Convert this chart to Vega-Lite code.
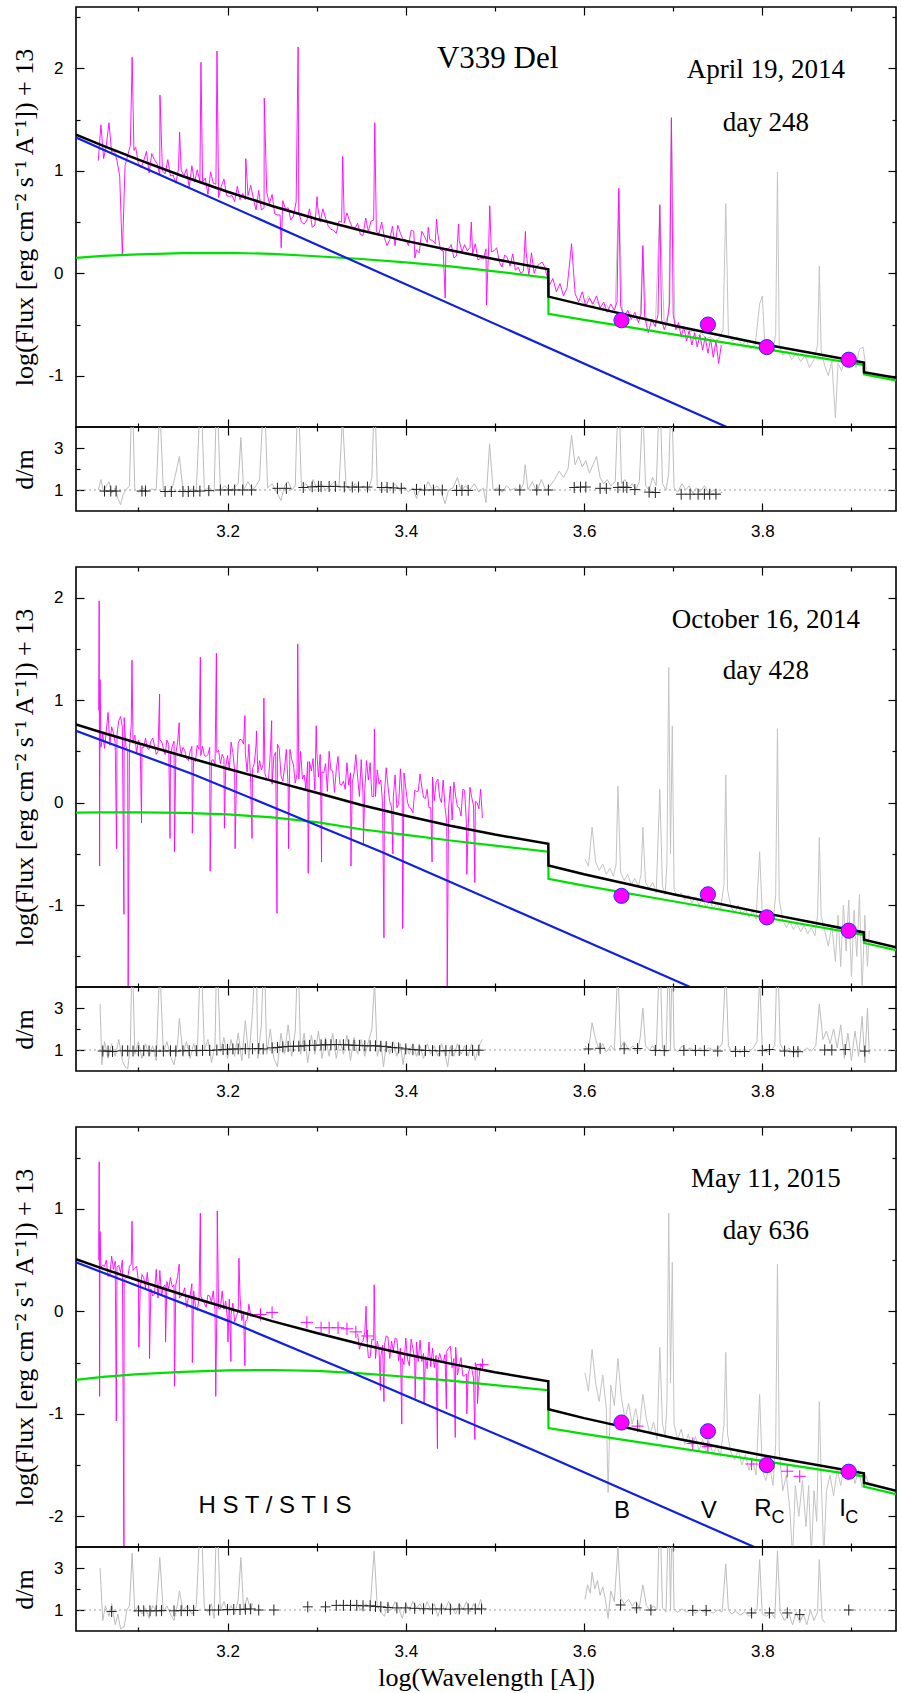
{
"$schema":"https://vega.github.io/schema/vega-lite/v6.json",
"background":"white",
"padding":{"left":10,"top":5,"right":5,"bottom":3},
"autosize":{"type":"pad"},
"config":{"view":{"stroke":"black","strokeWidth":1.6},
"axis":{"domain":false,"grid":false,"tickColor":"black","tickWidth":1.2,"labelFont":"Liberation Sans","labelFontSize":17,"labelColor":"black","labelOverlap":false,"labelFlush":false,"titleFont":"Liberation Serif","titleFontSize":26,"titleFontWeight":"normal","titleColor":"black"}},
"datasets":{
"m1":[{"x":3.055,"y":1.10},{"x":3.058,"y":1.45},{"x":3.061,"y":1.12},{"x":3.064,"y":1.25},{"x":3.067,"y":1.47},{"x":3.070,"y":1.18},{"x":3.073,"y":1.20},{"x":3.076,"y":1.10},{"x":3.079,"y":0.95},{"x":3.082,"y":0.18},{"x":3.085,"y":1.05},{"x":3.088,"y":1.15},{"x":3.091,"y":1.25},{"x":3.093,"y":2.11},{"x":3.095,"y":1.20},
{"x":3.097,"y":1.23},{"x":3.100,"y":1.07},{"x":3.103,"y":1.03},{"x":3.106,"y":1.10},{"x":3.109,"y":1.19},{"x":3.112,"y":0.98},{"x":3.115,"y":1.17},{"x":3.118,"y":1.11},{"x":3.121,"y":1.07},{"x":3.124,"y":0.96},{"x":3.127,"y":1.00},{"x":3.130,"y":0.97},{"x":3.133,"y":1.11},{"x":3.136,"y":0.95},{"x":3.139,"y":0.96},{"x":3.142,"y":0.88},{"x":3.145,"y":1.02},{"x":3.148,"y":1.01},{"x":3.151,"y":0.95},{"x":3.154,"y":1.02},{"x":3.157,"y":0.84},{"x":3.160,"y":1.05},{"x":3.163,"y":0.89},{"x":3.166,"y":1.01},{"x":3.169,"y":0.90},{"x":3.172,"y":0.89},{"x":3.175,"y":0.93},{"x":3.178,"y":0.77},{"x":3.181,"y":0.99},{"x":3.184,"y":0.88},{"x":3.187,"y":0.87},{"x":3.190,"y":0.74},{"x":3.193,"y":0.85},{"x":3.196,"y":0.92},{"x":3.199,"y":0.76},{"x":3.202,"y":0.75},{"x":3.205,"y":0.76},{"x":3.208,"y":0.70},{"x":3.211,"y":0.85},{"x":3.214,"y":0.72},{"x":3.217,"y":0.78},{"x":3.220,"y":0.72},{"x":3.223,"y":0.76},{"x":3.226,"y":0.86},{"x":3.229,"y":0.73},{"x":3.232,"y":0.62},{"x":3.235,"y":0.81},{"x":3.238,"y":0.62},{"x":3.241,"y":0.64},{"x":3.244,"y":0.79},{"x":3.247,"y":0.68},{"x":3.250,"y":0.77},{"x":3.253,"y":0.58},{"x":3.256,"y":0.57},{"x":3.259,"y":0.57},{"x":3.262,"y":0.71},{"x":3.265,"y":0.63},{"x":3.268,"y":0.64},{"x":3.271,"y":0.52},{"x":3.274,"y":0.56},{"x":3.277,"y":0.70},{"x":3.280,"y":0.59},{"x":3.283,"y":0.50},{"x":3.286,"y":0.48},{"x":3.289,"y":0.52},{"x":3.292,"y":0.63},{"x":3.295,"y":0.45},{"x":3.298,"y":0.47},{"x":3.301,"y":0.66},{"x":3.304,"y":0.50},{"x":3.307,"y":0.63},{"x":3.310,"y":0.54},{"x":3.313,"y":0.46},{"x":3.316,"y":0.43},{"x":3.319,"y":0.42},{"x":3.322,"y":0.39},{"x":3.325,"y":0.51},{"x":3.328,"y":0.50},{"x":3.331,"y":0.49},{"x":3.334,"y":0.59},{"x":3.337,"y":0.51},{"x":3.340,"y":0.45},{"x":3.343,"y":0.44},{"x":3.346,"y":0.49},{"x":3.349,"y":0.38},{"x":3.352,"y":0.37},{"x":3.355,"y":0.54},{"x":3.358,"y":0.41},{"x":3.361,"y":0.51},{"x":3.364,"y":0.52},{"x":3.367,"y":0.41},{"x":3.370,"y":0.39},{"x":3.373,"y":0.50},{"x":3.376,"y":0.35},{"x":3.379,"y":0.27},{"x":3.382,"y":0.33},{"x":3.385,"y":0.46},{"x":3.388,"y":0.27},{"x":3.391,"y":0.47},{"x":3.394,"y":0.39},{"x":3.397,"y":0.33},{"x":3.400,"y":0.33},{"x":3.403,"y":0.27},{"x":3.406,"y":0.42},{"x":3.409,"y":0.41},{"x":3.412,"y":0.23},{"x":3.415,"y":0.20},{"x":3.418,"y":0.41},{"x":3.421,"y":0.36},{"x":3.424,"y":0.30},{"x":3.427,"y":0.33},{"x":3.430,"y":0.32},{"x":3.433,"y":0.29},{"x":3.436,"y":0.38},{"x":3.439,"y":0.23},{"x":3.442,"y":0.22},{"x":3.445,"y":0.24},{"x":3.448,"y":0.24},{"x":3.451,"y":0.28},{"x":3.454,"y":0.15},{"x":3.457,"y":0.17},{"x":3.460,"y":0.32},{"x":3.463,"y":0.21},{"x":3.466,"y":0.28},{"x":3.469,"y":0.22},{"x":3.472,"y":0.25},{"x":3.475,"y":0.19},{"x":3.478,"y":0.29},{"x":3.481,"y":0.13},{"x":3.484,"y":0.15},{"x":3.487,"y":0.14},{"x":3.490,"y":0.24},{"x":3.493,"y":0.26},{"x":3.496,"y":0.21},{"x":3.499,"y":0.22},{"x":3.502,"y":0.25},{"x":3.505,"y":0.11},{"x":3.508,"y":0.06},{"x":3.511,"y":0.18},{"x":3.514,"y":0.15},{"x":3.517,"y":0.07},{"x":3.520,"y":0.19},{"x":3.523,"y":0.03},{"x":3.526,"y":0.06},{"x":3.529,"y":0.00},{"x":3.532,"y":0.02},{"x":3.535,"y":0.21},{"x":3.538,"y":-0.02},{"x":3.541,"y":0.20},{"x":3.544,"y":0.00},{"x":3.547,"y":0.07},{"x":3.550,"y":0.09},{"x":3.553,"y":0.11},{"x":3.556,"y":0.06},
{"x":3.1242,"y":1.74},{"x":3.1462,"y":1.38},{"x":3.1702,"y":2.06},{"x":3.1882,"y":2.17},{"x":3.2205,"y":1.12},{"x":3.2412,"y":1.71},{"x":3.2602,"y":0.25},{"x":3.2792,"y":2.21},{"x":3.3005,"y":0.75},{"x":3.3292,"y":1.14},{"x":3.3652,"y":1.47},{"x":3.4102,"y":0.15},{"x":3.4252,"y":0.45},{"x":3.4345,"y":0.53},{"x":3.4442,"y":-0.24},{"x":3.4592,"y":0.48},{"x":3.4735,"y":0.50},{"x":3.4905,"y":-0.31},{"x":3.4942,"y":0.66},{"x":3.5342,"y":0.41},
{"x":3.561,"y":-0.12},{"x":3.565,"y":-0.05},{"x":3.569,"y":-0.18},{"x":3.573,"y":-0.10},{"x":3.577,"y":-0.22},{"x":3.581,"y":-0.14},{"x":3.586,"y":0.29},{"x":3.590,"y":-0.20},{"x":3.594,"y":-0.28},{"x":3.598,"y":-0.18},{"x":3.602,"y":-0.32},{"x":3.606,"y":-0.24},{"x":3.610,"y":-0.30},{"x":3.614,"y":-0.22},{"x":3.618,"y":-0.34},{"x":3.622,"y":-0.28},{"x":3.626,"y":-0.38},{"x":3.630,"y":-0.30},{"x":3.634,"y":-0.36},{"x":3.637,"y":-0.28},{"x":3.639,"y":0.83},{"x":3.641,"y":-0.32},{"x":3.645,"y":-0.42},{"x":3.649,"y":-0.36},{"x":3.653,"y":-0.45},{"x":3.657,"y":-0.38},{"x":3.661,"y":-0.48},{"x":3.664,"y":-0.40},{"x":3.666,"y":0.27},{"x":3.668,"y":-0.42},{"x":3.672,"y":-0.58},{"x":3.676,"y":-0.45},{"x":3.680,"y":-0.52},{"x":3.683,"y":-0.40},{"x":3.685,"y":0.67},{"x":3.687,"y":-0.45},{"x":3.690,"y":-0.55},{"x":3.693,"y":-0.48},{"x":3.696,"y":-0.30},{"x":3.698,"y":1.52},{"x":3.700,"y":-0.40},{"x":3.703,"y":-0.55},{"x":3.706,"y":-0.48},{"x":3.709,"y":-0.62},{"x":3.712,"y":-0.52},{"x":3.715,"y":-0.66},{"x":3.718,"y":-0.56},{"x":3.721,"y":-0.70},{"x":3.724,"y":-0.58},{"x":3.727,"y":-0.72},{"x":3.730,"y":-0.60},{"x":3.733,"y":-0.75},{"x":3.736,"y":-0.62},{"x":3.739,"y":-0.78},{"x":3.742,"y":-0.64},{"x":3.745,"y":-0.82},{"x":3.748,"y":-0.66},{"x":3.751,"y":-0.88},{"x":3.754,"y":-0.70}],
"g1":[{"x":3.595,"y":-0.25},{"x":3.600,"y":-0.30},{"x":3.605,"y":-0.22},{"x":3.610,"y":-0.32},{"x":3.615,"y":-0.28},{"x":3.620,"y":-0.35},{"x":3.625,"y":-0.30},{"x":3.630,"y":-0.38},{"x":3.635,"y":-0.33},{"x":3.639,"y":0.80},{"x":3.643,"y":-0.38},{"x":3.648,"y":-0.42},{"x":3.653,"y":-0.40},{"x":3.658,"y":-0.46},{"x":3.663,"y":-0.42},{"x":3.666,"y":0.25},{"x":3.670,"y":-0.48},{"x":3.675,"y":-0.45},{"x":3.680,"y":-0.52},{"x":3.685,"y":0.65},{"x":3.690,"y":-0.50},{"x":3.695,"y":-0.40},{"x":3.698,"y":1.50},{"x":3.702,"y":-0.50},{"x":3.707,"y":-0.55},{"x":3.712,"y":-0.52},{"x":3.717,"y":-0.58},{"x":3.722,"y":-0.56},{"x":3.727,"y":-0.62},{"x":3.732,"y":-0.58},{"x":3.737,"y":-0.64},{"x":3.742,"y":-0.62},{"x":3.747,"y":-0.66},{"x":3.752,"y":-0.63},{"x":3.756,"y":-0.55},{"x":3.759,"y":0.68},{"x":3.762,"y":-0.60},{"x":3.767,"y":-0.66},{"x":3.772,"y":-0.62},{"x":3.777,"y":-0.70},{"x":3.782,"y":-0.66},{"x":3.787,"y":-0.74},{"x":3.792,"y":-0.70},{"x":3.797,"y":-0.30},{"x":3.800,"y":-0.22},{"x":3.803,"y":-0.72},{"x":3.808,"y":-0.78},{"x":3.812,"y":-0.74},{"x":3.815,"y":-0.60},{"x":3.817,"y":0.99},{"x":3.819,"y":-0.70},{"x":3.823,"y":-0.80},{"x":3.828,"y":-0.76},{"x":3.833,"y":-0.84},{"x":3.838,"y":-0.78},{"x":3.843,"y":-0.86},{"x":3.848,"y":-0.80},{"x":3.853,"y":-0.92},{"x":3.858,"y":-0.84},{"x":3.862,"y":-0.70},{"x":3.864,"y":0.07},{"x":3.866,"y":-0.75},{"x":3.870,"y":-0.90},{"x":3.874,"y":-1.00},{"x":3.878,"y":-0.86},{"x":3.882,"y":-1.41},{"x":3.885,"y":-0.88},{"x":3.889,"y":-0.95},{"x":3.893,"y":-0.84},{"x":3.897,"y":-0.90},{"x":3.901,"y":-0.80},{"x":3.905,"y":-0.92},{"x":3.909,"y":-0.74},{"x":3.913,"y":-0.72},{"x":3.917,"y":-0.95}],
"n1":[{"x":3.03,"y":0.15},{"x":3.06,"y":0.17},{"x":3.1,"y":0.185},{"x":3.15,"y":0.197},{"x":3.2,"y":0.2},{"x":3.25,"y":0.19},{"x":3.3,"y":0.167},{"x":3.35,"y":0.14},{"x":3.4,"y":0.108},{"x":3.45,"y":0.068},{"x":3.5,"y":0.02},{"x":3.5599,"y":-0.045},{"x":3.5601,"y":-0.395},{"x":3.6,"y":-0.455},{"x":3.7,"y":-0.595},{"x":3.8,"y":-0.735},{"x":3.9139,"y":-0.895},{"x":3.9141,"y":-0.985},{"x":3.95,"y":-1.045}],
"k1":[{"x":3.03,"y":1.353},{"x":3.06,"y":1.247},{"x":3.1,"y":1.11},{"x":3.15,"y":0.948},{"x":3.2,"y":0.797},{"x":3.25,"y":0.658},{"x":3.3,"y":0.531},{"x":3.35,"y":0.418},{"x":3.4,"y":0.317},{"x":3.45,"y":0.225},{"x":3.5,"y":0.138},{"x":3.5599,"y":0.04},{"x":3.5601,"y":-0.227},{"x":3.6,"y":-0.31},{"x":3.7,"y":-0.51},{"x":3.8,"y":-0.69},{"x":3.9139,"y":-0.87},{"x":3.9141,"y":-0.965},{"x":3.95,"y":-1.02}],
"b1":[{"x":3.03,"y":1.325},{"x":3.76,"y":-1.5}],
"c1":[{"x":3.642,"y":-0.458},{"x":3.739,"y":-0.50},{"x":3.805,"y":-0.72},{"x":3.897,"y":-0.843}],
"t1a":[{"x":3.503,"y":2.09,"t":"V339 Del"}],
"t1b":[{"x":3.804,"y":1.985,"t":"April 19, 2014"},{"x":3.804,"y":1.466,"t":"day 248"}],
"dg1":[{"x":3.055,"y":1.0},{"x":3.058,"y":1.5},{"x":3.061,"y":0.9},{"x":3.064,"y":1.2},{"x":3.067,"y":1.4},{"x":3.070,"y":0.85},{"x":3.074,"y":1.1},{"x":3.077,"y":0.6},{"x":3.080,"y":0.3},{"x":3.083,"y":0.8},{"x":3.086,"y":1.0},{"x":3.090,"y":1.2},{"x":3.093,"y":6},{"x":3.096,"y":1.0},{"x":3.100,"y":0.9},{"x":3.105,"y":1.1},{"x":3.110,"y":0.95},{"x":3.115,"y":1.05},{"x":3.120,"y":1.0},{"x":3.124,"y":5},{"x":3.128,"y":1.0},{"x":3.133,"y":0.9},{"x":3.138,"y":1.1},{"x":3.142,"y":1.8},{"x":3.146,"y":2.6},{"x":3.150,"y":1.0},{"x":3.155,"y":0.9},{"x":3.160,"y":1.05},{"x":3.165,"y":0.95},{"x":3.170,"y":6},{"x":3.174,"y":1.0},{"x":3.180,"y":1.1},{"x":3.185,"y":0.9},{"x":3.188,"y":6},{"x":3.192,"y":1.0},{"x":3.197,"y":1.2},{"x":3.202,"y":0.95},{"x":3.207,"y":1.1},{"x":3.212,"y":1.3},{"x":3.215,"y":3.5},{"x":3.218,"y":1.0},{"x":3.223,"y":1.4},{"x":3.228,"y":1.0},{"x":3.232,"y":1.2},{"x":3.236,"y":1.5},{"x":3.241,"y":6},{"x":3.245,"y":1.1},{"x":3.250,"y":1.3},{"x":3.255,"y":0.9},{"x":3.260,"y":0.5},{"x":3.264,"y":1.2},{"x":3.268,"y":1.4},{"x":3.272,"y":1.0},{"x":3.276,"y":1.2},{"x":3.279,"y":6},{"x":3.283,"y":1.1},{"x":3.288,"y":1.3},{"x":3.292,"y":1.0},{"x":3.296,"y":1.5},{"x":3.300,"y":1.1},{"x":3.305,"y":1.3},{"x":3.310,"y":1.0},{"x":3.315,"y":1.2},{"x":3.320,"y":1.4},{"x":3.325,"y":1.1},{"x":3.329,"y":4.5},{"x":3.333,"y":1.2},{"x":3.338,"y":1.0},{"x":3.343,"y":1.3},{"x":3.348,"y":1.1},{"x":3.353,"y":1.2},{"x":3.358,"y":1.0},{"x":3.362,"y":1.6},{"x":3.365,"y":6},{"x":3.368,"y":1.2},{"x":3.373,"y":0.95},{"x":3.378,"y":1.2},{"x":3.383,"y":1.05},{"x":3.388,"y":1.3},{"x":3.393,"y":1.0},{"x":3.398,"y":1.15},{"x":3.403,"y":0.9},{"x":3.408,"y":1.1},{"x":3.412,"y":0.6},{"x":3.416,"y":1.1},{"x":3.421,"y":0.95},{"x":3.425,"y":1.4},{"x":3.430,"y":1.0},{"x":3.435,"y":1.2},{"x":3.440,"y":0.9},{"x":3.444,"y":0.35},{"x":3.448,"y":1.0},{"x":3.453,"y":1.1},{"x":3.458,"y":1.6},{"x":3.462,"y":0.95},{"x":3.467,"y":1.2},{"x":3.472,"y":1.0},{"x":3.477,"y":1.3},{"x":3.482,"y":0.9},{"x":3.487,"y":1.1},{"x":3.490,"y":0.4},{"x":3.494,"y":3.2},{"x":3.498,"y":1.0},{"x":3.503,"y":1.1},{"x":3.508,"y":0.9},{"x":3.513,"y":1.2},{"x":3.518,"y":1.0},{"x":3.523,"y":1.1},{"x":3.528,"y":0.95},{"x":3.532,"y":1.3},{"x":3.534,"y":2.2},{"x":3.537,"y":1.0},{"x":3.542,"y":1.4},{"x":3.547,"y":0.9},{"x":3.552,"y":1.5},{"x":3.557,"y":1.0},{"x":3.562,"y":1.2},{"x":3.567,"y":1.5},{"x":3.572,"y":1.9},{"x":3.577,"y":1.6},{"x":3.582,"y":2.0},{"x":3.586,"y":3.6},{"x":3.590,"y":2.2},{"x":3.594,"y":2.6},{"x":3.598,"y":2.1},{"x":3.602,"y":2.4},{"x":3.606,"y":1.8},{"x":3.610,"y":2.2},{"x":3.614,"y":2.6},{"x":3.618,"y":1.6},{"x":3.622,"y":1.3},{"x":3.626,"y":1.5},{"x":3.630,"y":1.2},{"x":3.635,"y":1.4},{"x":3.639,"y":6},{"x":3.642,"y":1.3},{"x":3.646,"y":1.5},{"x":3.650,"y":1.1},{"x":3.654,"y":1.3},{"x":3.658,"y":1.0},{"x":3.662,"y":1.4},{"x":3.666,"y":5},{"x":3.669,"y":1.2},{"x":3.673,"y":1.0},{"x":3.677,"y":1.6},{"x":3.681,"y":1.2},{"x":3.685,"y":6},{"x":3.688,"y":1.3},{"x":3.692,"y":1.0},{"x":3.695,"y":1.8},{"x":3.698,"y":6},{"x":3.701,"y":1.1},{"x":3.705,"y":0.9},{"x":3.710,"y":1.3},{"x":3.714,"y":1.0},{"x":3.718,"y":1.2},{"x":3.722,"y":0.85},{"x":3.726,"y":1.1},{"x":3.730,"y":0.9},{"x":3.735,"y":1.2},{"x":3.740,"y":0.85},{"x":3.745,"y":1.0},{"x":3.750,"y":0.8},{"x":3.755,"y":0.9}],
"dx1":[{"x":3.062,"y":0.95},{"x":3.069,"y":0.95},{"x":3.075,"y":0.95},{"x":3.104,"y":0.95},{"x":3.108,"y":0.95},{"x":3.130,"y":0.93},{"x":3.137,"y":0.93},{"x":3.150,"y":0.93},{"x":3.156,"y":0.93},{"x":3.162,"y":0.94},{"x":3.169,"y":0.95},{"x":3.179,"y":0.97},{"x":3.192,"y":1.0},{"x":3.201,"y":1.0},{"x":3.208,"y":1.0},{"x":3.217,"y":1.0},{"x":3.227,"y":1.0},{"x":3.256,"y":1.08},{"x":3.266,"y":1.08},{"x":3.285,"y":1.12},{"x":3.295,"y":1.15},{"x":3.302,"y":1.17},{"x":3.305,"y":1.17},{"x":3.314,"y":1.17},{"x":3.321,"y":1.17},{"x":3.331,"y":1.15},{"x":3.340,"y":1.14},{"x":3.347,"y":1.14},{"x":3.357,"y":1.14},{"x":3.373,"y":1.12},{"x":3.379,"y":1.12},{"x":3.386,"y":1.1},{"x":3.395,"y":1.08},{"x":3.412,"y":1.03},{"x":3.421,"y":1.0},{"x":3.431,"y":1.0},{"x":3.441,"y":1.0},{"x":3.457,"y":0.98},{"x":3.463,"y":0.98},{"x":3.470,"y":0.98},{"x":3.505,"y":1.0},{"x":3.528,"y":1.0},{"x":3.547,"y":1.0},{"x":3.560,"y":1.0},{"x":3.589,"y":1.12},{"x":3.596,"y":1.14},{"x":3.602,"y":1.14},{"x":3.618,"y":1.08},{"x":3.625,"y":1.08},{"x":3.638,"y":1.12},{"x":3.644,"y":1.14},{"x":3.648,"y":1.12},{"x":3.657,"y":1.02},{"x":3.673,"y":0.9},{"x":3.680,"y":0.88},{"x":3.709,"y":0.8},{"x":3.719,"y":0.8},{"x":3.728,"y":0.8},{"x":3.735,"y":0.8},{"x":3.741,"y":0.8},{"x":3.748,"y":0.8}],
"m2":[{"x":3.058,"y":0.54},{"x":3.060,"y":0.67},{"x":3.062,"y":0.53},{"x":3.064,"y":0.70},{"x":3.066,"y":0.88},{"x":3.068,"y":0.56},{"x":3.070,"y":0.74},{"x":3.072,"y":0.68},{"x":3.074,"y":0.58},{"x":3.076,"y":0.67},{"x":3.078,"y":0.80},{"x":3.080,"y":0.84},{"x":3.082,"y":0.74},{"x":3.084,"y":0.83},{"x":3.086,"y":0.55},{"x":3.088,"y":0.50},{"x":3.090,"y":0.54},{"x":3.092,"y":0.76},{"x":3.094,"y":0.58},{"x":3.096,"y":0.66},{"x":3.098,"y":0.48},{"x":3.100,"y":0.61},{"x":3.102,"y":0.57},{"x":3.104,"y":0.54},{"x":3.106,"y":0.54},{"x":3.108,"y":0.63},{"x":3.110,"y":0.53},{"x":3.112,"y":0.52},{"x":3.114,"y":0.60},{"x":3.116,"y":0.63},{"x":3.118,"y":0.56},{"x":3.120,"y":0.47},{"x":3.122,"y":0.50},{"x":3.124,"y":0.61},{"x":3.126,"y":0.60},{"x":3.128,"y":0.53},{"x":3.130,"y":0.47},{"x":3.132,"y":0.61},{"x":3.134,"y":0.57},{"x":3.136,"y":0.46},{"x":3.138,"y":0.55},{"x":3.140,"y":0.60},{"x":3.142,"y":0.48},{"x":3.144,"y":0.59},{"x":3.146,"y":0.59},{"x":3.148,"y":0.47},{"x":3.150,"y":0.54},{"x":3.152,"y":0.51},{"x":3.154,"y":0.43},{"x":3.156,"y":0.41},{"x":3.158,"y":0.50},{"x":3.160,"y":0.55},{"x":3.162,"y":0.44},{"x":3.164,"y":0.40},{"x":3.166,"y":0.56},{"x":3.168,"y":0.52},{"x":3.170,"y":0.46},{"x":3.172,"y":0.55},{"x":3.174,"y":0.46},{"x":3.176,"y":0.45},{"x":3.178,"y":0.47},{"x":3.180,"y":0.54},{"x":3.182,"y":0.41},{"x":3.184,"y":0.42},{"x":3.186,"y":0.37},{"x":3.188,"y":0.49},{"x":3.190,"y":0.51},{"x":3.192,"y":0.38},{"x":3.194,"y":0.47},{"x":3.196,"y":0.43},{"x":3.198,"y":0.35},{"x":3.200,"y":0.46},{"x":3.202,"y":0.32},{"x":3.204,"y":0.59},{"x":3.206,"y":0.49},{"x":3.208,"y":0.31},{"x":3.210,"y":0.22},{"x":3.212,"y":0.58},{"x":3.214,"y":0.62},{"x":3.216,"y":0.61},{"x":3.218,"y":0.57},{"x":3.220,"y":0.48},{"x":3.222,"y":0.30},{"x":3.224,"y":0.57},{"x":3.226,"y":0.20},{"x":3.228,"y":0.33},{"x":3.230,"y":0.38},{"x":3.232,"y":0.56},{"x":3.234,"y":0.29},{"x":3.236,"y":0.41},{"x":3.238,"y":0.32},{"x":3.240,"y":0.37},{"x":3.242,"y":0.28},{"x":3.244,"y":0.23},{"x":3.246,"y":0.22},{"x":3.248,"y":0.49},{"x":3.250,"y":0.18},{"x":3.252,"y":0.45},{"x":3.254,"y":0.49},{"x":3.256,"y":0.57},{"x":3.258,"y":0.53},{"x":3.260,"y":0.26},{"x":3.262,"y":0.21},{"x":3.264,"y":0.34},{"x":3.266,"y":0.52},{"x":3.268,"y":0.16},{"x":3.270,"y":0.52},{"x":3.272,"y":0.42},{"x":3.274,"y":0.37},{"x":3.276,"y":0.19},{"x":3.278,"y":0.28},{"x":3.280,"y":0.23},{"x":3.282,"y":0.50},{"x":3.284,"y":0.23},{"x":3.286,"y":0.27},{"x":3.288,"y":0.13},{"x":3.290,"y":0.40},{"x":3.292,"y":0.40},{"x":3.294,"y":0.31},{"x":3.296,"y":0.43},{"x":3.298,"y":0.12},{"x":3.300,"y":0.52},{"x":3.302,"y":0.25},{"x":3.304,"y":0.47},{"x":3.306,"y":0.30},{"x":3.308,"y":0.29},{"x":3.310,"y":0.38},{"x":3.312,"y":0.11},{"x":3.314,"y":0.50},{"x":3.316,"y":0.32},{"x":3.318,"y":0.31},{"x":3.320,"y":0.10},{"x":3.322,"y":0.32},{"x":3.324,"y":0.45},{"x":3.326,"y":0.18},{"x":3.328,"y":0.17},{"x":3.330,"y":0.21},{"x":3.332,"y":0.13},{"x":3.334,"y":0.39},{"x":3.336,"y":0.17},{"x":3.338,"y":0.29},{"x":3.340,"y":0.20},{"x":3.342,"y":0.29},{"x":3.344,"y":0.47},{"x":3.346,"y":0.25},{"x":3.348,"y":0.06},{"x":3.350,"y":0.42},{"x":3.352,"y":0.09},{"x":3.354,"y":0.13},{"x":3.356,"y":0.41},{"x":3.358,"y":0.22},{"x":3.360,"y":0.39},{"x":3.362,"y":0.06},{"x":3.364,"y":0.06},{"x":3.366,"y":0.06},{"x":3.368,"y":0.32},{"x":3.370,"y":0.18},{"x":3.372,"y":0.22},{"x":3.374,"y":-0.01},{"x":3.376,"y":0.08},{"x":3.378,"y":0.34},{"x":3.380,"y":0.16},{"x":3.382,"y":0.01},{"x":3.384,"y":-0.04},{"x":3.386,"y":0.05},{"x":3.388,"y":0.27},{"x":3.390,"y":-0.05},{"x":3.392,"y":-0.02},{"x":3.394,"y":0.33},{"x":3.396,"y":0.07},{"x":3.398,"y":0.29},{"x":3.400,"y":0.14},{"x":3.402,"y":0.00},{"x":3.404,"y":-0.05},{"x":3.406,"y":-0.06},{"x":3.408,"y":-0.10},{"x":3.410,"y":0.12},{"x":3.412,"y":0.11},{"x":3.414,"y":0.11},{"x":3.416,"y":0.28},{"x":3.418,"y":0.15},{"x":3.420,"y":0.05},{"x":3.422,"y":0.04},{"x":3.424,"y":0.13},{"x":3.426,"y":-0.05},{"x":3.428,"y":-0.05},{"x":3.430,"y":0.25},{"x":3.432,"y":0.02},{"x":3.434,"y":0.20},{"x":3.436,"y":0.23},{"x":3.438,"y":0.05},{"x":3.440,"y":0.00},{"x":3.442,"y":0.22},{"x":3.444,"y":-0.05},{"x":3.446,"y":-0.19},{"x":3.448,"y":-0.06},{"x":3.450,"y":0.16},{"x":3.452,"y":-0.17},{"x":3.454,"y":0.20},{"x":3.456,"y":0.06},{"x":3.458,"y":-0.04},{"x":3.460,"y":-0.05},{"x":3.462,"y":-0.13},{"x":3.464,"y":0.13},{"x":3.466,"y":0.12},{"x":3.468,"y":-0.20},{"x":3.470,"y":-0.24},{"x":3.472,"y":0.15},{"x":3.474,"y":0.05},{"x":3.476,"y":-0.03},{"x":3.478,"y":0.01},{"x":3.480,"y":0.00},{"x":3.482,"y":-0.06},{"x":3.484,"y":0.13},{"x":3.486,"y":-0.15},
{"x":3.0555,"y":0.9},{"x":3.056,"y":1.97},{"x":3.0565,"y":-0.62},{"x":3.057,"y":1.2},{"x":3.0755,"y":-0.45},{"x":3.0838,"y":-1.09},{"x":3.0885,"y":-1.8},{"x":3.0928,"y":1.39},{"x":3.1035,"y":-0.2},{"x":3.1238,"y":1.06},{"x":3.1355,"y":-0.35},{"x":3.1405,"y":-0.48},{"x":3.1458,"y":0.78},{"x":3.1605,"y":-0.3},{"x":3.1695,"y":1.42},{"x":3.1805,"y":-0.67},{"x":3.1875,"y":1.46},{"x":3.1965,"y":-0.25},{"x":3.2085,"y":-0.45},{"x":3.2195,"y":0.85},{"x":3.2275,"y":-0.35},{"x":3.2325,"y":0.7},{"x":3.2408,"y":1.02},{"x":3.2495,"y":0.8},{"x":3.2555,"y":-1.08},{"x":3.2685,"y":-0.45},{"x":3.2788,"y":1.55},{"x":3.2905,"y":-0.69},{"x":3.2995,"y":0.75},{"x":3.3055,"y":-0.58},{"x":3.3385,"y":-0.62},{"x":3.3525,"y":-0.4},{"x":3.3648,"y":0.72},{"x":3.3755,"y":-1.32},{"x":3.3855,"y":-0.5},{"x":3.3965,"y":-1.23},{"x":3.4295,"y":-0.58},{"x":3.4465,"y":-1.8},{"x":3.4685,"y":-0.7},{"x":3.4775,"y":-0.78}],
"g2":[{"x":3.601,"y":-0.55},{"x":3.605,"y":-0.62},{"x":3.609,"y":-0.24},{"x":3.613,"y":-0.58},{"x":3.617,"y":-0.66},{"x":3.621,"y":-0.60},{"x":3.625,"y":-0.70},{"x":3.629,"y":-0.64},{"x":3.633,"y":-0.72},{"x":3.636,"y":-0.60},{"x":3.638,"y":0.16},{"x":3.641,"y":-0.68},{"x":3.645,"y":-0.76},{"x":3.649,"y":-0.70},{"x":3.653,"y":-0.80},{"x":3.657,"y":-0.74},{"x":3.661,"y":-0.82},{"x":3.664,"y":-0.70},{"x":3.666,"y":-0.24},{"x":3.669,"y":-0.78},{"x":3.673,"y":-0.84},{"x":3.677,"y":-0.78},{"x":3.681,"y":-0.88},{"x":3.685,"y":0.13},{"x":3.688,"y":-0.82},{"x":3.691,"y":-0.90},{"x":3.693,"y":-0.60},{"x":3.695,"y":1.32},{"x":3.697,"y":-0.5},{"x":3.699,"y":0.75},{"x":3.701,"y":-0.85},{"x":3.705,"y":-0.92},{"x":3.709,"y":-0.88},{"x":3.713,"y":-0.95},{"x":3.717,"y":-0.90},{"x":3.721,"y":-0.98},{"x":3.725,"y":-0.92},{"x":3.729,"y":-1.00},{"x":3.733,"y":-0.94},{"x":3.737,"y":-1.02},{"x":3.741,"y":-0.96},{"x":3.745,"y":-1.04},{"x":3.749,"y":-0.98},{"x":3.753,"y":-1.05},{"x":3.757,"y":-0.80},{"x":3.759,"y":0.27},{"x":3.761,"y":-0.85},{"x":3.765,"y":-1.02},{"x":3.769,"y":-1.08},{"x":3.773,"y":-1.00},{"x":3.777,"y":-1.10},{"x":3.781,"y":-1.04},{"x":3.785,"y":-1.12},{"x":3.789,"y":-1.06},{"x":3.793,"y":-1.14},{"x":3.797,"y":-0.48},{"x":3.800,"y":-1.10},{"x":3.804,"y":-1.16},{"x":3.808,"y":-1.12},{"x":3.812,"y":-1.18},{"x":3.815,"y":-0.90},{"x":3.817,"y":0.72},{"x":3.819,"y":-0.95},{"x":3.823,"y":-1.15},{"x":3.827,"y":-1.22},{"x":3.831,"y":-1.16},{"x":3.835,"y":-1.24},{"x":3.839,"y":-1.18},{"x":3.843,"y":-1.26},{"x":3.847,"y":-1.20},{"x":3.851,"y":-1.28},{"x":3.855,"y":-1.22},{"x":3.859,"y":-1.30},{"x":3.862,"y":-1.10},{"x":3.864,"y":-0.34},{"x":3.866,"y":-1.10},{"x":3.870,"y":-1.25},{"x":3.874,"y":-1.40},{"x":3.878,"y":-1.20},{"x":3.882,"y":-1.55},{"x":3.885,"y":-1.10},{"x":3.888,"y":-1.60},{"x":3.891,"y":-1.00},{"x":3.894,"y":-1.45},{"x":3.897,"y":-0.95},{"x":3.900,"y":-1.70},{"x":3.903,"y":-1.05},{"x":3.906,"y":-1.50},{"x":3.909,"y":-0.90},{"x":3.912,"y":-1.85},{"x":3.915,"y":-1.10},{"x":3.918,"y":-1.60},{"x":3.920,"y":-1.25}],
"n2":[{"x":3.03,"y":-0.098},{"x":3.06,"y":-0.095},{"x":3.1,"y":-0.095},{"x":3.15,"y":-0.10},{"x":3.2,"y":-0.115},{"x":3.25,"y":-0.145},{"x":3.3,"y":-0.19},{"x":3.35,"y":-0.26},{"x":3.4,"y":-0.315},{"x":3.45,"y":-0.37},{"x":3.5,"y":-0.42},{"x":3.5599,"y":-0.48},{"x":3.5601,"y":-0.745},{"x":3.6,"y":-0.81},{"x":3.7,"y":-0.963},{"x":3.8,"y":-1.117},{"x":3.9139,"y":-1.292},{"x":3.9141,"y":-1.37},{"x":3.95,"y":-1.44}],
"k2":[{"x":3.03,"y":0.764},{"x":3.06,"y":0.682},{"x":3.1,"y":0.579},{"x":3.15,"y":0.455},{"x":3.2,"y":0.331},{"x":3.25,"y":0.212},{"x":3.3,"y":0.097},{"x":3.35,"y":-0.023},{"x":3.4,"y":-0.128},{"x":3.45,"y":-0.226},{"x":3.5,"y":-0.312},{"x":3.5599,"y":-0.403},{"x":3.5601,"y":-0.613},{"x":3.6,"y":-0.699},{"x":3.7,"y":-0.894},{"x":3.8,"y":-1.074},{"x":3.9139,"y":-1.267},{"x":3.9141,"y":-1.339},{"x":3.95,"y":-1.413}],
"b2":[{"x":3.03,"y":0.70},{"x":3.1,"y":0.475},{"x":3.162,"y":0.275},{"x":3.25,"y":-0.04},{"x":3.3,"y":-0.22},{"x":3.371,"y":-0.474},{"x":3.45,"y":-0.775},{"x":3.55,"y":-1.156},{"x":3.65,"y":-1.537},{"x":3.719,"y":-1.8}],
"c2":[{"x":3.642,"y":-0.91},{"x":3.739,"y":-0.895},{"x":3.805,"y":-1.12},{"x":3.897,"y":-1.25}],
"t2":[{"x":3.804,"y":1.787,"t":"October 16, 2014"},{"x":3.804,"y":1.284,"t":"day 428"}],
"dg2":[{"x":3.057,"y":3.2},{"x":3.059,"y":0.3},{"x":3.062,"y":1.4},{"x":3.066,"y":0.6},{"x":3.070,"y":1.3},{"x":3.074,"y":0.7},{"x":3.078,"y":1.5},{"x":3.082,"y":0.5},{"x":3.085,"y":0.2},{"x":3.088,"y":0.1},{"x":3.091,"y":1.2},{"x":3.093,"y":6},{"x":3.096,"y":0.8},{"x":3.100,"y":1.4},{"x":3.104,"y":0.6},{"x":3.108,"y":1.3},{"x":3.112,"y":0.7},{"x":3.116,"y":1.2},{"x":3.120,"y":0.5},{"x":3.124,"y":5},{"x":3.128,"y":0.9},{"x":3.132,"y":1.4},{"x":3.136,"y":0.7},{"x":3.140,"y":0.3},{"x":3.144,"y":1.3},{"x":3.146,"y":2.5},{"x":3.150,"y":0.8},{"x":3.154,"y":1.4},{"x":3.158,"y":0.6},{"x":3.162,"y":1.3},{"x":3.166,"y":0.7},{"x":3.170,"y":6},{"x":3.174,"y":1.0},{"x":3.178,"y":1.5},{"x":3.182,"y":0.4},{"x":3.186,"y":1.2},{"x":3.188,"y":6},{"x":3.192,"y":0.9},{"x":3.196,"y":1.6},{"x":3.200,"y":0.6},{"x":3.204,"y":1.5},{"x":3.208,"y":0.7},{"x":3.212,"y":1.8},{"x":3.216,"y":0.5},{"x":3.220,"y":2.4},{"x":3.224,"y":0.6},{"x":3.228,"y":2.8},{"x":3.232,"y":6},{"x":3.234,"y":0.6},{"x":3.238,"y":2.2},{"x":3.241,"y":6},{"x":3.244,"y":0.8},{"x":3.248,"y":2.0},{"x":3.252,"y":0.6},{"x":3.256,"y":0.2},{"x":3.260,"y":1.8},{"x":3.264,"y":0.8},{"x":3.268,"y":2.2},{"x":3.272,"y":0.7},{"x":3.276,"y":1.9},{"x":3.279,"y":6},{"x":3.282,"y":0.8},{"x":3.286,"y":1.8},{"x":3.290,"y":0.4},{"x":3.294,"y":1.7},{"x":3.298,"y":0.8},{"x":3.302,"y":1.9},{"x":3.306,"y":0.6},{"x":3.310,"y":1.6},{"x":3.314,"y":0.7},{"x":3.318,"y":1.8},{"x":3.322,"y":0.6},{"x":3.326,"y":1.5},{"x":3.330,"y":0.8},{"x":3.334,"y":1.7},{"x":3.338,"y":0.5},{"x":3.342,"y":1.6},{"x":3.346,"y":0.8},{"x":3.350,"y":1.5},{"x":3.354,"y":0.7},{"x":3.358,"y":1.4},{"x":3.362,"y":2.0},{"x":3.365,"y":4.3},{"x":3.368,"y":0.7},{"x":3.372,"y":1.4},{"x":3.375,"y":0.2},{"x":3.378,"y":1.3},{"x":3.382,"y":0.8},{"x":3.386,"y":1.4},{"x":3.390,"y":0.7},{"x":3.394,"y":1.3},{"x":3.397,"y":0.3},{"x":3.400,"y":1.2},{"x":3.404,"y":0.8},{"x":3.408,"y":1.3},{"x":3.412,"y":0.7},{"x":3.416,"y":1.2},{"x":3.420,"y":0.6},{"x":3.424,"y":1.3},{"x":3.428,"y":0.8},{"x":3.432,"y":1.2},{"x":3.436,"y":0.7},{"x":3.440,"y":1.3},{"x":3.444,"y":0.8},{"x":3.447,"y":0.2},{"x":3.450,"y":1.2},{"x":3.454,"y":0.7},{"x":3.458,"y":1.3},{"x":3.462,"y":0.8},{"x":3.466,"y":1.2},{"x":3.470,"y":0.7},{"x":3.474,"y":1.3},{"x":3.478,"y":0.5},{"x":3.482,"y":1.2},{"x":3.486,"y":1.5}],
"dg2b":[{"x":3.601,"y":1.2},{"x":3.605,"y":1.0},{"x":3.609,"y":2.3},{"x":3.613,"y":1.5},{"x":3.617,"y":1.0},{"x":3.621,"y":1.3},{"x":3.625,"y":0.9},{"x":3.630,"y":1.2},{"x":3.634,"y":1.0},{"x":3.638,"y":5},{"x":3.641,"y":1.1},{"x":3.645,"y":1.4},{"x":3.650,"y":1.0},{"x":3.655,"y":1.2},{"x":3.660,"y":0.9},{"x":3.663,"y":1.6},{"x":3.666,"y":3.0},{"x":3.669,"y":1.2},{"x":3.673,"y":1.0},{"x":3.677,"y":1.2},{"x":3.681,"y":0.9},{"x":3.685,"y":6},{"x":3.688,"y":1.1},{"x":3.692,"y":0.9},{"x":3.695,"y":6},{"x":3.697,"y":1.0},{"x":3.699,"y":6},{"x":3.701,"y":1.1},{"x":3.705,"y":0.9},{"x":3.710,"y":1.2},{"x":3.715,"y":1.0},{"x":3.720,"y":1.1},{"x":3.725,"y":0.9},{"x":3.730,"y":1.1},{"x":3.735,"y":0.95},{"x":3.740,"y":1.1},{"x":3.745,"y":1.0},{"x":3.750,"y":1.05},{"x":3.755,"y":1.3},{"x":3.759,"y":5},{"x":3.762,"y":1.2},{"x":3.766,"y":0.9},{"x":3.770,"y":1.1},{"x":3.775,"y":0.85},{"x":3.780,"y":1.05},{"x":3.785,"y":0.9},{"x":3.790,"y":1.1},{"x":3.794,"y":1.4},{"x":3.797,"y":4.5},{"x":3.800,"y":1.1},{"x":3.805,"y":0.9},{"x":3.810,"y":1.0},{"x":3.814,"y":1.2},{"x":3.817,"y":6},{"x":3.820,"y":1.3},{"x":3.825,"y":0.9},{"x":3.830,"y":1.1},{"x":3.835,"y":0.85},{"x":3.840,"y":1.05},{"x":3.845,"y":0.9},{"x":3.850,"y":1.1},{"x":3.855,"y":0.95},{"x":3.860,"y":1.2},{"x":3.864,"y":3.2},{"x":3.868,"y":1.5},{"x":3.872,"y":1.9},{"x":3.876,"y":1.3},{"x":3.880,"y":2.0},{"x":3.884,"y":1.1},{"x":3.888,"y":2.2},{"x":3.892,"y":0.6},{"x":3.896,"y":1.8},{"x":3.900,"y":0.5},{"x":3.904,"y":1.9},{"x":3.908,"y":0.7},{"x":3.912,"y":2.6},{"x":3.915,"y":0.4},{"x":3.918,"y":3.0},{"x":3.920,"y":0.8}],
"dx2":[{"x":3.060,"y":0.95},{"x":3.066,"y":0.95},{"x":3.071,"y":0.93},{"x":3.082,"y":0.96},{"x":3.088,"y":0.96},{"x":3.094,"y":0.95},{"x":3.1,"y":0.96},{"x":3.106,"y":0.97},{"x":3.112,"y":0.96},{"x":3.12,"y":0.95},{"x":3.128,"y":0.95},{"x":3.136,"y":0.96},{"x":3.142,"y":0.95},{"x":3.15,"y":0.96},{"x":3.157,"y":0.97},{"x":3.165,"y":0.97},{"x":3.172,"y":0.98},{"x":3.18,"y":0.98},{"x":3.188,"y":1.0},{"x":3.195,"y":1.02},{"x":3.2,"y":1.03},{"x":3.206,"y":1.05},{"x":3.212,"y":1.05},{"x":3.22,"y":1.06},{"x":3.228,"y":1.06},{"x":3.235,"y":1.07},{"x":3.24,"y":1.05},{"x":3.25,"y":1.1},{"x":3.256,"y":1.12},{"x":3.262,"y":1.15},{"x":3.268,"y":1.17},{"x":3.274,"y":1.18},{"x":3.28,"y":1.18},{"x":3.286,"y":1.2},{"x":3.292,"y":1.22},{"x":3.298,"y":1.22},{"x":3.305,"y":1.24},{"x":3.31,"y":1.25},{"x":3.316,"y":1.25},{"x":3.322,"y":1.26},{"x":3.33,"y":1.25},{"x":3.336,"y":1.24},{"x":3.342,"y":1.22},{"x":3.348,"y":1.22},{"x":3.354,"y":1.2},{"x":3.36,"y":1.2},{"x":3.366,"y":1.2},{"x":3.372,"y":1.18},{"x":3.378,"y":1.16},{"x":3.385,"y":1.12},{"x":3.392,"y":1.1},{"x":3.4,"y":1.05},{"x":3.408,"y":1.02},{"x":3.415,"y":1.0},{"x":3.422,"y":0.98},{"x":3.43,"y":0.97},{"x":3.438,"y":0.96},{"x":3.445,"y":0.97},{"x":3.452,"y":0.97},{"x":3.46,"y":0.98},{"x":3.468,"y":0.98},{"x":3.475,"y":0.98},{"x":3.482,"y":0.99},{"x":3.605,"y":1.05},{"x":3.618,"y":1.08},{"x":3.645,"y":1.06},{"x":3.66,"y":1.07},{"x":3.68,"y":0.98},{"x":3.69,"y":0.97},{"x":3.712,"y":0.98},{"x":3.725,"y":0.98},{"x":3.735,"y":0.97},{"x":3.75,"y":0.95},{"x":3.77,"y":0.93},{"x":3.78,"y":0.93},{"x":3.8,"y":0.97},{"x":3.808,"y":1.02},{"x":3.825,"y":0.95},{"x":3.835,"y":0.92},{"x":3.84,"y":0.92},{"x":3.87,"y":1.0},{"x":3.878,"y":1.0},{"x":3.893,"y":1.02},{"x":3.915,"y":0.95}],
"m3a":[{"x":3.058,"y":0.43},{"x":3.060,"y":0.45},{"x":3.062,"y":0.44},{"x":3.064,"y":0.50},{"x":3.066,"y":0.34},{"x":3.068,"y":0.36},{"x":3.070,"y":0.54},{"x":3.072,"y":0.41},{"x":3.074,"y":0.49},{"x":3.076,"y":0.43},{"x":3.078,"y":0.45},{"x":3.080,"y":0.38},{"x":3.082,"y":0.50},{"x":3.084,"y":0.31},{"x":3.086,"y":0.33},{"x":3.088,"y":0.33},{"x":3.090,"y":0.44},{"x":3.092,"y":0.46},{"x":3.094,"y":0.40},{"x":3.096,"y":0.42},{"x":3.098,"y":0.44},{"x":3.100,"y":0.29},{"x":3.102,"y":0.22},{"x":3.104,"y":0.36},{"x":3.106,"y":0.33},{"x":3.108,"y":0.23},{"x":3.110,"y":0.38},{"x":3.112,"y":0.19},{"x":3.114,"y":0.22},{"x":3.116,"y":0.15},{"x":3.118,"y":0.17},{"x":3.120,"y":0.41},{"x":3.122,"y":0.13},{"x":3.124,"y":0.40},{"x":3.126,"y":0.15},{"x":3.128,"y":0.24},{"x":3.130,"y":0.26},{"x":3.132,"y":0.29},{"x":3.134,"y":0.22},{"x":3.136,"y":0.33},{"x":3.138,"y":0.24},{"x":3.140,"y":0.26},{"x":3.142,"y":0.26},{"x":3.144,"y":0.34},{"x":3.146,"y":0.13},{"x":3.148,"y":0.15},{"x":3.150,"y":0.18},{"x":3.152,"y":0.23},{"x":3.154,"y":0.04},{"x":3.156,"y":0.13},{"x":3.158,"y":0.15},{"x":3.160,"y":0.27},{"x":3.162,"y":0.20},{"x":3.164,"y":0.05},{"x":3.166,"y":0.01},{"x":3.168,"y":0.12},{"x":3.170,"y":0.15},{"x":3.172,"y":0.11},{"x":3.174,"y":0.08},{"x":3.176,"y":0.04},{"x":3.178,"y":0.16},{"x":3.180,"y":0.15},{"x":3.182,"y":0.09},{"x":3.184,"y":0.20},{"x":3.186,"y":0.01},{"x":3.188,"y":-0.02},{"x":3.190,"y":0.03},{"x":3.192,"y":0.03},{"x":3.194,"y":0.20},{"x":3.196,"y":0.02},{"x":3.198,"y":0.10},{"x":3.200,"y":-0.09},{"x":3.202,"y":0.12},{"x":3.204,"y":-0.03},{"x":3.206,"y":0.08},{"x":3.208,"y":-0.10},{"x":3.210,"y":-0.05},{"x":3.212,"y":0.01},{"x":3.214,"y":0.15},{"x":3.216,"y":-0.09},{"x":3.218,"y":-0.01},{"x":3.220,"y":-0.10},{"x":3.222,"y":-0.08},{"x":3.224,"y":0.07},{"x":3.226,"y":-0.05},
{"x":3.0555,"y":0.5},{"x":3.056,"y":1.46},{"x":3.0565,"y":-0.83},{"x":3.057,"y":0.78},{"x":3.0752,"y":-1.07},{"x":3.0838,"y":-2.4},{"x":3.0928,"y":0.88},{"x":3.1005,"y":-0.35},{"x":3.1125,"y":-0.46},{"x":3.1238,"y":0.35},{"x":3.1305,"y":-0.3},{"x":3.1405,"y":-0.73},{"x":3.1458,"y":0.46},{"x":3.1605,"y":-0.5},{"x":3.1695,"y":0.96},{"x":3.1868,"y":-0.83},{"x":3.1885,"y":0.98},{"x":3.2005,"y":-0.3},{"x":3.2038,"y":-0.49},{"x":3.2128,"y":0.52},{"x":3.2195,"y":-0.53}],
"m3b":[{"x":3.346,"y":-0.22},{"x":3.348,"y":-0.37},{"x":3.350,"y":-0.31},{"x":3.352,"y":-0.29},{"x":3.354,"y":-0.20},{"x":3.356,"y":-0.23},{"x":3.358,"y":-0.45},{"x":3.360,"y":-0.45},{"x":3.362,"y":-0.27},{"x":3.364,"y":-0.28},{"x":3.366,"y":-0.46},{"x":3.368,"y":-0.29},{"x":3.370,"y":-0.38},{"x":3.372,"y":-0.44},{"x":3.374,"y":-0.33},{"x":3.376,"y":-0.33},{"x":3.378,"y":-0.24},{"x":3.380,"y":-0.25},{"x":3.382,"y":-0.46},{"x":3.384,"y":-0.29},{"x":3.386,"y":-0.38},{"x":3.388,"y":-0.26},{"x":3.390,"y":-0.27},{"x":3.392,"y":-0.48},{"x":3.394,"y":-0.36},{"x":3.396,"y":-0.46},{"x":3.398,"y":-0.52},{"x":3.400,"y":-0.26},{"x":3.402,"y":-0.47},{"x":3.404,"y":-0.53},{"x":3.406,"y":-0.27},{"x":3.408,"y":-0.36},{"x":3.410,"y":-0.48},{"x":3.412,"y":-0.30},{"x":3.414,"y":-0.49},{"x":3.416,"y":-0.28},{"x":3.418,"y":-0.49},{"x":3.420,"y":-0.41},{"x":3.422,"y":-0.44},{"x":3.424,"y":-0.56},{"x":3.426,"y":-0.30},{"x":3.428,"y":-0.54},{"x":3.430,"y":-0.36},{"x":3.432,"y":-0.55},{"x":3.434,"y":-0.43},{"x":3.436,"y":-0.49},{"x":3.438,"y":-0.41},{"x":3.440,"y":-0.47},{"x":3.442,"y":-0.50},{"x":3.444,"y":-0.42},{"x":3.446,"y":-0.39},{"x":3.448,"y":-0.36},{"x":3.450,"y":-0.34},{"x":3.452,"y":-0.55},{"x":3.454,"y":-0.46},{"x":3.456,"y":-0.35},{"x":3.458,"y":-0.62},{"x":3.460,"y":-0.53},{"x":3.462,"y":-0.45},{"x":3.464,"y":-0.63},{"x":3.466,"y":-0.63},{"x":3.468,"y":-0.61},{"x":3.470,"y":-0.61},{"x":3.472,"y":-0.55},{"x":3.474,"y":-0.56},{"x":3.476,"y":-0.65},{"x":3.478,"y":-0.50},{"x":3.480,"y":-0.57},{"x":3.482,"y":-0.66},{"x":3.484,"y":-0.51},{"x":3.486,"y":-0.55},
{"x":3.3555,"y":0.05},{"x":3.3645,"y":0.26},{"x":3.3715,"y":-0.77},{"x":3.3755,"y":-0.88},{"x":3.3955,"y":-1.1},{"x":3.4105,"y":-0.85},{"x":3.4205,"y":-0.9},{"x":3.4355,"y":-1.34},{"x":3.4455,"y":-0.95},{"x":3.4555,"y":-1.23},{"x":3.4685,"y":-1.0},{"x":3.4775,"y":-1.25},{"x":3.4805,"y":-0.9}],
"mx3":[{"x":3.237,"y":-0.03},{"x":3.25,"y":-0.01},{"x":3.289,"y":-0.107},{"x":3.305,"y":-0.16},{"x":3.314,"y":-0.16},{"x":3.324,"y":-0.16},{"x":3.334,"y":-0.17},{"x":3.344,"y":-0.2},{"x":3.357,"y":-0.24},{"x":3.486,"y":-0.52},{"x":3.66,"y":-1.12},{"x":3.722,"y":-1.29},{"x":3.739,"y":-1.32},{"x":3.788,"y":-1.49},{"x":3.828,"y":-1.56},{"x":3.842,"y":-1.61}],
"g3":[{"x":3.601,"y":-0.60},{"x":3.605,"y":-0.78},{"x":3.609,"y":-0.37},{"x":3.613,"y":-0.70},{"x":3.617,"y":-0.88},{"x":3.621,"y":-0.62},{"x":3.625,"y":-0.95},{"x":3.627,"y":-1.77},{"x":3.630,"y":-0.72},{"x":3.634,"y":-0.92},{"x":3.638,"y":-0.46},{"x":3.642,"y":-0.85},{"x":3.646,"y":-1.05},{"x":3.650,"y":-0.90},{"x":3.654,"y":-1.10},{"x":3.658,"y":-0.95},{"x":3.662,"y":-1.15},{"x":3.666,"y":-0.81},{"x":3.670,"y":-1.05},{"x":3.674,"y":-1.20},{"x":3.678,"y":-1.08},{"x":3.682,"y":-1.25},{"x":3.685,"y":-0.35},{"x":3.688,"y":-1.10},{"x":3.691,"y":-1.22},{"x":3.693,"y":-0.90},{"x":3.695,"y":0.96},{"x":3.697,"y":-0.7},{"x":3.699,"y":0.48},{"x":3.701,"y":-1.10},{"x":3.705,"y":-1.25},{"x":3.709,"y":-1.15},{"x":3.713,"y":-1.30},{"x":3.717,"y":-1.20},{"x":3.721,"y":-1.32},{"x":3.725,"y":-1.22},{"x":3.729,"y":-1.36},{"x":3.733,"y":-1.25},{"x":3.737,"y":-1.38},{"x":3.741,"y":-1.28},{"x":3.745,"y":-1.40},{"x":3.749,"y":-1.30},{"x":3.753,"y":-1.42},{"x":3.757,"y":-1.10},{"x":3.759,"y":-0.40},{"x":3.761,"y":-1.20},{"x":3.765,"y":-1.38},{"x":3.769,"y":-1.45},{"x":3.773,"y":-1.35},{"x":3.777,"y":-1.50},{"x":3.781,"y":-1.40},{"x":3.785,"y":-1.55},{"x":3.789,"y":-1.45},{"x":3.793,"y":-1.60},{"x":3.797,"y":-0.81},{"x":3.800,"y":-1.55},{"x":3.804,"y":-1.65},{"x":3.808,"y":-1.50},{"x":3.812,"y":-1.70},{"x":3.815,"y":-1.30},{"x":3.817,"y":0.46},{"x":3.819,"y":-1.35},{"x":3.823,"y":-1.75},{"x":3.827,"y":-1.60},{"x":3.831,"y":-1.95},{"x":3.834,"y":-2.40},{"x":3.837,"y":-1.70},{"x":3.841,"y":-2.00},{"x":3.845,"y":-1.65},{"x":3.849,"y":-2.10},{"x":3.852,"y":-1.70},{"x":3.855,"y":-2.40},{"x":3.858,"y":-1.75},{"x":3.861,"y":-2.05},{"x":3.864,"y":-0.88},{"x":3.866,"y":-1.60},{"x":3.869,"y":-2.40},{"x":3.872,"y":-1.75},{"x":3.876,"y":-1.60},{"x":3.880,"y":-1.80},{"x":3.884,"y":-1.55},{"x":3.888,"y":-1.70},{"x":3.892,"y":-1.50},{"x":3.896,"y":-1.65},{"x":3.900,"y":-1.52},{"x":3.904,"y":-1.68},{"x":3.908,"y":-1.55},{"x":3.912,"y":-1.72},{"x":3.916,"y":-1.60},{"x":3.920,"y":-1.70}],
"n3":[{"x":3.03,"y":-0.668},{"x":3.06,"y":-0.64},{"x":3.1,"y":-0.612},{"x":3.15,"y":-0.59},{"x":3.2,"y":-0.575},{"x":3.25,"y":-0.572},{"x":3.3,"y":-0.58},{"x":3.35,"y":-0.605},{"x":3.4,"y":-0.638},{"x":3.45,"y":-0.675},{"x":3.5,"y":-0.72},{"x":3.5599,"y":-0.77},{"x":3.5601,"y":-1.14},{"x":3.6,"y":-1.195},{"x":3.7,"y":-1.327},{"x":3.8,"y":-1.459},{"x":3.9139,"y":-1.61},{"x":3.9141,"y":-1.71},{"x":3.95,"y":-1.785}],
"k3":[{"x":3.03,"y":0.509},{"x":3.06,"y":0.418},{"x":3.1,"y":0.301},{"x":3.15,"y":0.162},{"x":3.2,"y":0.033},{"x":3.25,"y":-0.095},{"x":3.3,"y":-0.211},{"x":3.35,"y":-0.32},{"x":3.4,"y":-0.419},{"x":3.45,"y":-0.51},{"x":3.5,"y":-0.594},{"x":3.5599,"y":-0.682},{"x":3.5601,"y":-0.956},{"x":3.6,"y":-1.042},{"x":3.7,"y":-1.235},{"x":3.8,"y":-1.404},{"x":3.9139,"y":-1.58},{"x":3.9141,"y":-1.672},{"x":3.95,"y":-1.752}],
"b3":[{"x":3.03,"y":0.479},{"x":3.1,"y":0.245},{"x":3.2,"y":-0.09},{"x":3.34,"y":-0.60},{"x":3.45,"y":-1.008},{"x":3.55,"y":-1.38},{"x":3.791,"y":-2.3}],
"c3":[{"x":3.642,"y":-1.085},{"x":3.739,"y":-1.17},{"x":3.805,"y":-1.50},{"x":3.897,"y":-1.565}],
"t3":[{"x":3.804,"y":1.297,"t":"May 11, 2015"},{"x":3.804,"y":0.78,"t":"day 636"}],
"s3":[{"x":3.2533,"y":-1.9,"t":"H S T / S T I S"},{"x":3.6426,"y":-1.95,"t":"B"},{"x":3.740,"y":-1.95,"t":"V"},{"x":3.8008,"y":-1.93,"t":"R"},{"x":3.890,"y":-1.93,"t":"I"}],
"u3":[{"x":3.8176,"y":-2.02,"t":"C"},{"x":3.9003,"y":-2.02,"t":"C"}],
"dg3":[{"x":3.057,"y":3.0},{"x":3.06,"y":0.5},{"x":3.063,"y":1.2},{"x":3.067,"y":0.7},{"x":3.07,"y":1.3},{"x":3.074,"y":0.3},{"x":3.077,"y":0.8},{"x":3.08,"y":0.1},{"x":3.084,"y":0.2},{"x":3.087,"y":1.0},{"x":3.09,"y":1.2},{"x":3.093,"y":3.7},{"x":3.096,"y":0.9},{"x":3.1,"y":1.2},{"x":3.104,"y":0.8},{"x":3.108,"y":1.1},{"x":3.112,"y":0.6},{"x":3.116,"y":1.2},{"x":3.12,"y":1.0},{"x":3.124,"y":3.5},{"x":3.128,"y":0.9},{"x":3.132,"y":1.2},{"x":3.136,"y":0.8},{"x":3.14,"y":0.5},{"x":3.144,"y":1.3},{"x":3.146,"y":1.9},{"x":3.15,"y":1.0},{"x":3.155,"y":1.2},{"x":3.16,"y":0.8},{"x":3.165,"y":1.2},{"x":3.17,"y":6},{"x":3.174,"y":1.1},{"x":3.178,"y":0.9},{"x":3.182,"y":1.3},{"x":3.185,"y":0.6},{"x":3.188,"y":6},{"x":3.192,"y":1.0},{"x":3.196,"y":1.4},{"x":3.2,"y":0.9},{"x":3.204,"y":1.2},{"x":3.208,"y":0.8},{"x":3.212,"y":1.5},{"x":3.215,"y":3.5},{"x":3.218,"y":1.0},{"x":3.222,"y":1.6},{"x":3.226,"y":1.0},{"x":3.228,"y":1.3}],
"dg3b":[{"x":3.346,"y":1.2},{"x":3.35,"y":1.0},{"x":3.355,"y":1.3},{"x":3.36,"y":1.1},{"x":3.3645,"y":3.8},{"x":3.368,"y":1.2},{"x":3.372,"y":0.9},{"x":3.376,"y":0.7},{"x":3.38,"y":1.3},{"x":3.384,"y":1.0},{"x":3.388,"y":1.4},{"x":3.392,"y":1.1},{"x":3.396,"y":0.6},{"x":3.4,"y":1.3},{"x":3.404,"y":1.0},{"x":3.408,"y":1.4},{"x":3.412,"y":1.1},{"x":3.416,"y":1.3},{"x":3.42,"y":0.9},{"x":3.424,"y":1.4},{"x":3.428,"y":1.0},{"x":3.432,"y":1.3},{"x":3.436,"y":0.7},{"x":3.44,"y":1.3},{"x":3.444,"y":1.0},{"x":3.448,"y":1.4},{"x":3.452,"y":1.1},{"x":3.456,"y":0.8},{"x":3.46,"y":1.3},{"x":3.464,"y":1.0},{"x":3.468,"y":1.4},{"x":3.472,"y":0.9},{"x":3.476,"y":1.3},{"x":3.48,"y":1.0},{"x":3.484,"y":1.5},{"x":3.486,"y":1.1}],
"dg3c":[{"x":3.601,"y":1.5},{"x":3.604,"y":2.2},{"x":3.607,"y":1.8},{"x":3.609,"y":2.8},{"x":3.612,"y":2.0},{"x":3.615,"y":2.4},{"x":3.618,"y":1.7},{"x":3.621,"y":2.1},{"x":3.624,"y":1.5},{"x":3.627,"y":0.6},{"x":3.63,"y":1.9},{"x":3.634,"y":1.4},{"x":3.638,"y":4.0},{"x":3.641,"y":1.6},{"x":3.645,"y":1.3},{"x":3.65,"y":1.5},{"x":3.654,"y":1.2},{"x":3.658,"y":1.4},{"x":3.662,"y":1.1},{"x":3.666,"y":2.2},{"x":3.67,"y":1.2},{"x":3.674,"y":1.0},{"x":3.678,"y":1.2},{"x":3.682,"y":1.0},{"x":3.685,"y":6},{"x":3.688,"y":1.1},{"x":3.692,"y":0.9},{"x":3.695,"y":6},{"x":3.697,"y":1.0},{"x":3.699,"y":6},{"x":3.701,"y":1.0},{"x":3.705,"y":0.9},{"x":3.71,"y":1.05},{"x":3.715,"y":0.9},{"x":3.72,"y":1.0},{"x":3.725,"y":0.85},{"x":3.73,"y":1.0},{"x":3.735,"y":0.9},{"x":3.74,"y":0.95},{"x":3.745,"y":0.85},{"x":3.75,"y":1.0},{"x":3.755,"y":0.9},{"x":3.759,"y":3.2},{"x":3.762,"y":1.0},{"x":3.766,"y":0.8},{"x":3.77,"y":0.95},{"x":3.775,"y":0.75},{"x":3.78,"y":0.9},{"x":3.785,"y":0.7},{"x":3.79,"y":0.85},{"x":3.794,"y":1.0},{"x":3.797,"y":3.4},{"x":3.8,"y":0.8},{"x":3.805,"y":0.7},{"x":3.81,"y":0.9},{"x":3.814,"y":0.6},{"x":3.817,"y":3.8},{"x":3.82,"y":0.9},{"x":3.825,"y":0.5},{"x":3.83,"y":0.8},{"x":3.834,"y":0.3},{"x":3.838,"y":0.9},{"x":3.842,"y":0.4},{"x":3.846,"y":0.8},{"x":3.85,"y":0.3},{"x":3.854,"y":1.0},{"x":3.858,"y":0.5},{"x":3.862,"y":0.9},{"x":3.864,"y":3.4},{"x":3.867,"y":0.6},{"x":3.87,"y":0.4}],
"dx3":[{"x":3.07,"y":0.93},{"x":3.1,"y":0.96},{"x":3.106,"y":0.96},{"x":3.113,"y":0.96},{"x":3.12,"y":0.96},{"x":3.126,"y":0.97},{"x":3.14,"y":0.96},{"x":3.148,"y":0.97},{"x":3.155,"y":0.97},{"x":3.162,"y":0.98},{"x":3.18,"y":1.0},{"x":3.19,"y":1.0},{"x":3.2,"y":1.02},{"x":3.207,"y":1.02},{"x":3.214,"y":1.02},{"x":3.22,"y":1.04},{"x":3.226,"y":1.05},{"x":3.235,"y":1.0},{"x":3.252,"y":1.0},{"x":3.29,"y":1.15},{"x":3.31,"y":1.15},{"x":3.322,"y":1.22},{"x":3.33,"y":1.22},{"x":3.338,"y":1.22},{"x":3.345,"y":1.22},{"x":3.352,"y":1.2},{"x":3.36,"y":1.2},{"x":3.366,"y":1.17},{"x":3.372,"y":1.15},{"x":3.38,"y":1.12},{"x":3.39,"y":1.1},{"x":3.4,"y":1.1},{"x":3.41,"y":1.08},{"x":3.42,"y":1.06},{"x":3.43,"y":1.05},{"x":3.44,"y":1.05},{"x":3.45,"y":1.04},{"x":3.46,"y":1.05},{"x":3.47,"y":1.05},{"x":3.478,"y":1.05},{"x":3.485,"y":1.05},{"x":3.641,"y":1.24},{"x":3.659,"y":1.1},{"x":3.675,"y":1.0},{"x":3.722,"y":0.98},{"x":3.737,"y":0.98},{"x":3.788,"y":0.86},{"x":3.808,"y":0.86},{"x":3.828,"y":0.86},{"x":3.842,"y":0.78},{"x":3.897,"y":1.0}],
"one":[{"v":1}]
},
"vconcat":[
{"width":820,"height":420,"layer":[
{"data":{"name":"g1"},"mark":{"type":"line","color":"#c4c4c4","strokeWidth":1,"clip":true},"encoding":{"x":{"field":"x","type":"quantitative","scale":{"domain":[3.03,3.95],"nice":false,"zero":false},"axis":{"orient":"bottom","values":[3.1,3.2,3.3,3.4,3.5,3.6,3.7,3.8,3.9],"labels":false,"title":null,"tickSize":{"condition":{"test":"round(datum.value*10)%2==0","value":-8},"value":-4}}},"y":{"field":"y","type":"quantitative","scale":{"domain":[-1.5,2.6],"nice":false,"zero":false},"axis":{"orient":"left","values":[-1,-0.5,0,0.5,1,1.5,2,2.5],"tickSize":{"condition":{"test":"datum.value%1==0","value":-8},"value":-4},"labelExpr":"datum.value%1==0 ? ''+datum.value : ''","labelPadding":21,"title":"log(Flux [erg cm⁻² s⁻¹ A⁻¹]) + 13","titleX":-52,"titleY":210,"titleAngle":-90,"titleAlign":"center","titleBaseline":"middle"}}}},
{"data":{"name":"m1"},"mark":{"type":"line","color":"#ff00ff","strokeWidth":0.9,"clip":true},"encoding":{"x":{"field":"x","type":"quantitative","axis":{"orient":"top","values":[3.1,3.2,3.3,3.4,3.5,3.6,3.7,3.8,3.9],"labels":false,"title":null,"tickSize":{"condition":{"test":"round(datum.value*10)%2==0","value":-8},"value":-4}}},"y":{"field":"y","type":"quantitative","axis":{"orient":"right","values":[-1,-0.5,0,0.5,1,1.5,2,2.5],"labels":false,"title":null,"tickSize":{"condition":{"test":"datum.value%1==0","value":-8},"value":-4}}}}},
{"data":{"name":"n1"},"mark":{"type":"line","color":"#00e000","strokeWidth":2.2,"clip":true},"encoding":{"x":{"field":"x","type":"quantitative","axis":null},"y":{"field":"y","type":"quantitative","axis":null}}},
{"data":{"name":"b1"},"mark":{"type":"line","color":"#1020e0","strokeWidth":2.2,"clip":true},"encoding":{"x":{"field":"x","type":"quantitative","axis":null},"y":{"field":"y","type":"quantitative","axis":null}}},
{"data":{"name":"k1"},"mark":{"type":"line","color":"black","strokeWidth":2.5,"clip":true},"encoding":{"x":{"field":"x","type":"quantitative","axis":null},"y":{"field":"y","type":"quantitative","axis":null}}},
{"data":{"name":"c1"},"mark":{"type":"point","shape":"circle","filled":true,"fill":"#ff00ff","stroke":"#2030ff","strokeWidth":1,"size":230,"opacity":1},"encoding":{"x":{"field":"x","type":"quantitative","axis":null},"y":{"field":"y","type":"quantitative","axis":null}}},
{"data":{"name":"t1a"},"mark":{"type":"text","font":"Liberation Serif","fontSize":31,"align":"center","baseline":"middle","color":"black"},"encoding":{"x":{"field":"x","type":"quantitative","axis":null},"y":{"field":"y","type":"quantitative","axis":null},"text":{"field":"t"}}},
{"data":{"name":"t1b"},"mark":{"type":"text","font":"Liberation Serif","fontSize":27,"align":"center","baseline":"middle","color":"black"},"encoding":{"x":{"field":"x","type":"quantitative","axis":null},"y":{"field":"y","type":"quantitative","axis":null},"text":{"field":"t"}}}
]},
{"width":820,"height":84,"layer":[
{"data":{"name":"one"},"mark":{"type":"rule","color":"#999999","strokeDash":[2,3],"strokeWidth":1},"encoding":{"y":{"datum":1,"type":"quantitative","scale":{"domain":[0,4],"nice":false,"zero":false},"axis":null}}},
{"data":{"name":"dg1"},"mark":{"type":"line","color":"#bdbdbd","strokeWidth":1,"clip":true},"encoding":{"x":{"field":"x","type":"quantitative","scale":{"domain":[3.03,3.95],"nice":false,"zero":false},"axis":{"orient":"bottom","values":[3.1,3.2,3.3,3.4,3.5,3.6,3.7,3.8,3.9],"tickSize":{"condition":{"test":"round(datum.value*10)%2==0","value":-8},"value":-4},"labelExpr":"round(datum.value*10)%2==0 ? format(datum.value,'.1f') : ''","labelPadding":20,"title":null}},"y":{"field":"y","type":"quantitative","axis":{"orient":"left","values":[1,2,3],"tickSize":{"condition":{"test":"datum.value!=2","value":-8},"value":-4},"labelExpr":"datum.value==2 ? '' : ''+datum.value","labelPadding":21,"title":"d/m","titleX":-52,"titleY":42,"titleAngle":-90,"titleAlign":"center","titleBaseline":"middle"}}}},
{"data":{"name":"dx1"},"mark":{"type":"point","shape":"M-1,0H1M0,-1.1V1.1","filled":false,"stroke":"#222222","strokeWidth":1,"size":100,"opacity":1},"encoding":{"x":{"field":"x","type":"quantitative","axis":{"orient":"top","values":[3.1,3.2,3.3,3.4,3.5,3.6,3.7,3.8,3.9],"labels":false,"title":null,"tickSize":{"condition":{"test":"round(datum.value*10)%2==0","value":-8},"value":-4}}},"y":{"field":"y","type":"quantitative","axis":{"orient":"right","values":[1,2,3],"labels":false,"title":null,"tickSize":{"condition":{"test":"datum.value!=2","value":-8},"value":-4}}}}}
]},
{"width":820,"height":56,"view":{"stroke":null},"data":{"values":[]},"mark":"point"},
{"width":820,"height":420,"layer":[
{"data":{"name":"g2"},"mark":{"type":"line","color":"#c4c4c4","strokeWidth":1,"clip":true},"encoding":{"x":{"field":"x","type":"quantitative","scale":{"domain":[3.03,3.95],"nice":false,"zero":false},"axis":{"orient":"bottom","values":[3.1,3.2,3.3,3.4,3.5,3.6,3.7,3.8,3.9],"labels":false,"title":null,"tickSize":{"condition":{"test":"round(datum.value*10)%2==0","value":-8},"value":-4}}},"y":{"field":"y","type":"quantitative","scale":{"domain":[-1.8,2.3],"nice":false,"zero":false},"axis":{"orient":"left","values":[-1.5,-1,-0.5,0,0.5,1,1.5,2],"tickSize":{"condition":{"test":"datum.value%1==0","value":-8},"value":-4},"labelExpr":"datum.value%1==0 ? ''+datum.value : ''","labelPadding":21,"title":"log(Flux [erg cm⁻² s⁻¹ A⁻¹]) + 13","titleX":-52,"titleY":210,"titleAngle":-90,"titleAlign":"center","titleBaseline":"middle"}}}},
{"data":{"name":"m2"},"mark":{"type":"line","color":"#ff00ff","strokeWidth":0.9,"clip":true},"encoding":{"x":{"field":"x","type":"quantitative","axis":{"orient":"top","values":[3.1,3.2,3.3,3.4,3.5,3.6,3.7,3.8,3.9],"labels":false,"title":null,"tickSize":{"condition":{"test":"round(datum.value*10)%2==0","value":-8},"value":-4}}},"y":{"field":"y","type":"quantitative","axis":{"orient":"right","values":[-1.5,-1,-0.5,0,0.5,1,1.5,2],"labels":false,"title":null,"tickSize":{"condition":{"test":"datum.value%1==0","value":-8},"value":-4}}}}},
{"data":{"name":"n2"},"mark":{"type":"line","color":"#00e000","strokeWidth":2.2,"clip":true},"encoding":{"x":{"field":"x","type":"quantitative","axis":null},"y":{"field":"y","type":"quantitative","axis":null}}},
{"data":{"name":"b2"},"mark":{"type":"line","color":"#1020e0","strokeWidth":2.2,"clip":true},"encoding":{"x":{"field":"x","type":"quantitative","axis":null},"y":{"field":"y","type":"quantitative","axis":null}}},
{"data":{"name":"k2"},"mark":{"type":"line","color":"black","strokeWidth":2.5,"clip":true},"encoding":{"x":{"field":"x","type":"quantitative","axis":null},"y":{"field":"y","type":"quantitative","axis":null}}},
{"data":{"name":"c2"},"mark":{"type":"point","shape":"circle","filled":true,"fill":"#ff00ff","stroke":"#2030ff","strokeWidth":1,"size":230,"opacity":1},"encoding":{"x":{"field":"x","type":"quantitative","axis":null},"y":{"field":"y","type":"quantitative","axis":null}}},
{"data":{"name":"t2"},"mark":{"type":"text","font":"Liberation Serif","fontSize":27,"align":"center","baseline":"middle","color":"black"},"encoding":{"x":{"field":"x","type":"quantitative","axis":null},"y":{"field":"y","type":"quantitative","axis":null},"text":{"field":"t"}}}
]},
{"width":820,"height":84,"layer":[
{"data":{"name":"one"},"mark":{"type":"rule","color":"#999999","strokeDash":[2,3],"strokeWidth":1},"encoding":{"y":{"datum":1,"type":"quantitative","scale":{"domain":[0,4],"nice":false,"zero":false},"axis":null}}},
{"data":{"name":"dg2"},"mark":{"type":"line","color":"#bdbdbd","strokeWidth":1,"clip":true},"encoding":{"x":{"field":"x","type":"quantitative","scale":{"domain":[3.03,3.95],"nice":false,"zero":false},"axis":{"orient":"bottom","values":[3.1,3.2,3.3,3.4,3.5,3.6,3.7,3.8,3.9],"tickSize":{"condition":{"test":"round(datum.value*10)%2==0","value":-8},"value":-4},"labelExpr":"round(datum.value*10)%2==0 ? format(datum.value,'.1f') : ''","labelPadding":20,"title":null}},"y":{"field":"y","type":"quantitative","axis":{"orient":"left","values":[1,2,3],"tickSize":{"condition":{"test":"datum.value!=2","value":-8},"value":-4},"labelExpr":"datum.value==2 ? '' : ''+datum.value","labelPadding":21,"title":"d/m","titleX":-52,"titleY":42,"titleAngle":-90,"titleAlign":"center","titleBaseline":"middle"}}}},
{"data":{"name":"dg2b"},"mark":{"type":"line","color":"#bdbdbd","strokeWidth":1,"clip":true},"encoding":{"x":{"field":"x","type":"quantitative","axis":null},"y":{"field":"y","type":"quantitative","axis":null}}},
{"data":{"name":"dx2"},"mark":{"type":"point","shape":"M-1,0H1M0,-1.1V1.1","filled":false,"stroke":"#222222","strokeWidth":1,"size":100,"opacity":1},"encoding":{"x":{"field":"x","type":"quantitative","axis":{"orient":"top","values":[3.1,3.2,3.3,3.4,3.5,3.6,3.7,3.8,3.9],"labels":false,"title":null,"tickSize":{"condition":{"test":"round(datum.value*10)%2==0","value":-8},"value":-4}}},"y":{"field":"y","type":"quantitative","axis":{"orient":"right","values":[1,2,3],"labels":false,"title":null,"tickSize":{"condition":{"test":"datum.value!=2","value":-8},"value":-4}}}}}
]},
{"width":820,"height":56,"view":{"stroke":null},"data":{"values":[]},"mark":"point"},
{"width":820,"height":420,"layer":[
{"data":{"name":"g3"},"mark":{"type":"line","color":"#c4c4c4","strokeWidth":1,"clip":true},"encoding":{"x":{"field":"x","type":"quantitative","scale":{"domain":[3.03,3.95],"nice":false,"zero":false},"axis":{"orient":"bottom","values":[3.1,3.2,3.3,3.4,3.5,3.6,3.7,3.8,3.9],"labels":false,"title":null,"tickSize":{"condition":{"test":"round(datum.value*10)%2==0","value":-8},"value":-4}}},"y":{"field":"y","type":"quantitative","scale":{"domain":[-2.3,1.8],"nice":false,"zero":false},"axis":{"orient":"left","values":[-2,-1.5,-1,-0.5,0,0.5,1,1.5],"tickSize":{"condition":{"test":"datum.value%1==0","value":-8},"value":-4},"labelExpr":"datum.value%1==0 ? ''+datum.value : ''","labelPadding":21,"title":"log(Flux [erg cm⁻² s⁻¹ A⁻¹]) + 13","titleX":-52,"titleY":210,"titleAngle":-90,"titleAlign":"center","titleBaseline":"middle"}}}},
{"data":{"name":"m3a"},"mark":{"type":"line","color":"#ff00ff","strokeWidth":0.9,"clip":true},"encoding":{"x":{"field":"x","type":"quantitative","axis":{"orient":"top","values":[3.1,3.2,3.3,3.4,3.5,3.6,3.7,3.8,3.9],"labels":false,"title":null,"tickSize":{"condition":{"test":"round(datum.value*10)%2==0","value":-8},"value":-4}}},"y":{"field":"y","type":"quantitative","axis":{"orient":"right","values":[-2,-1.5,-1,-0.5,0,0.5,1,1.5],"labels":false,"title":null,"tickSize":{"condition":{"test":"datum.value%1==0","value":-8},"value":-4}}}}},
{"data":{"name":"m3b"},"mark":{"type":"line","color":"#ff00ff","strokeWidth":0.9,"clip":true},"encoding":{"x":{"field":"x","type":"quantitative","axis":null},"y":{"field":"y","type":"quantitative","axis":null}}},
{"data":{"name":"mx3"},"mark":{"type":"point","shape":"M-1,0H1M0,-1V1","filled":false,"stroke":"#ff00ff","strokeWidth":1,"size":150,"opacity":1},"encoding":{"x":{"field":"x","type":"quantitative","axis":null},"y":{"field":"y","type":"quantitative","axis":null}}},
{"data":{"name":"n3"},"mark":{"type":"line","color":"#00e000","strokeWidth":2.2,"clip":true},"encoding":{"x":{"field":"x","type":"quantitative","axis":null},"y":{"field":"y","type":"quantitative","axis":null}}},
{"data":{"name":"b3"},"mark":{"type":"line","color":"#1020e0","strokeWidth":2.2,"clip":true},"encoding":{"x":{"field":"x","type":"quantitative","axis":null},"y":{"field":"y","type":"quantitative","axis":null}}},
{"data":{"name":"k3"},"mark":{"type":"line","color":"black","strokeWidth":2.5,"clip":true},"encoding":{"x":{"field":"x","type":"quantitative","axis":null},"y":{"field":"y","type":"quantitative","axis":null}}},
{"data":{"name":"c3"},"mark":{"type":"point","shape":"circle","filled":true,"fill":"#ff00ff","stroke":"#2030ff","strokeWidth":1,"size":230,"opacity":1},"encoding":{"x":{"field":"x","type":"quantitative","axis":null},"y":{"field":"y","type":"quantitative","axis":null}}},
{"data":{"name":"t3"},"mark":{"type":"text","font":"Liberation Serif","fontSize":27,"align":"center","baseline":"middle","color":"black"},"encoding":{"x":{"field":"x","type":"quantitative","axis":null},"y":{"field":"y","type":"quantitative","axis":null},"text":{"field":"t"}}},
{"data":{"name":"s3"},"mark":{"type":"text","font":"Liberation Sans","fontSize":24,"align":"center","baseline":"middle","color":"black"},"encoding":{"x":{"field":"x","type":"quantitative","axis":null},"y":{"field":"y","type":"quantitative","axis":null},"text":{"field":"t"}}},
{"data":{"name":"u3"},"mark":{"type":"text","font":"Liberation Sans","fontSize":18,"align":"center","baseline":"middle","color":"black"},"encoding":{"x":{"field":"x","type":"quantitative","axis":null},"y":{"field":"y","type":"quantitative","axis":null},"text":{"field":"t"}}}
]},
{"width":820,"height":84,"layer":[
{"data":{"name":"one"},"mark":{"type":"rule","color":"#999999","strokeDash":[2,3],"strokeWidth":1},"encoding":{"y":{"datum":1,"type":"quantitative","scale":{"domain":[0,4],"nice":false,"zero":false},"axis":null}}},
{"data":{"name":"dg3"},"mark":{"type":"line","color":"#bdbdbd","strokeWidth":1,"clip":true},"encoding":{"x":{"field":"x","type":"quantitative","scale":{"domain":[3.03,3.95],"nice":false,"zero":false},"axis":{"orient":"bottom","values":[3.1,3.2,3.3,3.4,3.5,3.6,3.7,3.8,3.9],"tickSize":{"condition":{"test":"round(datum.value*10)%2==0","value":-8},"value":-4},"labelExpr":"round(datum.value*10)%2==0 ? format(datum.value,'.1f') : ''","labelPadding":20,"title":"log(Wavelength [A])","titleX":410,"titleY":46,"titleAlign":"center","titleBaseline":"middle"}},"y":{"field":"y","type":"quantitative","axis":{"orient":"left","values":[1,2,3],"tickSize":{"condition":{"test":"datum.value!=2","value":-8},"value":-4},"labelExpr":"datum.value==2 ? '' : ''+datum.value","labelPadding":21,"title":"d/m","titleX":-52,"titleY":42,"titleAngle":-90,"titleAlign":"center","titleBaseline":"middle"}}}},
{"data":{"name":"dg3b"},"mark":{"type":"line","color":"#bdbdbd","strokeWidth":1,"clip":true},"encoding":{"x":{"field":"x","type":"quantitative","axis":null},"y":{"field":"y","type":"quantitative","axis":null}}},
{"data":{"name":"dg3c"},"mark":{"type":"line","color":"#bdbdbd","strokeWidth":1,"clip":true},"encoding":{"x":{"field":"x","type":"quantitative","axis":null},"y":{"field":"y","type":"quantitative","axis":null}}},
{"data":{"name":"dx3"},"mark":{"type":"point","shape":"M-1,0H1M0,-1.1V1.1","filled":false,"stroke":"#222222","strokeWidth":1,"size":100,"opacity":1},"encoding":{"x":{"field":"x","type":"quantitative","axis":{"orient":"top","values":[3.1,3.2,3.3,3.4,3.5,3.6,3.7,3.8,3.9],"labels":false,"title":null,"tickSize":{"condition":{"test":"round(datum.value*10)%2==0","value":-8},"value":-4}}},"y":{"field":"y","type":"quantitative","axis":{"orient":"right","values":[1,2,3],"labels":false,"title":null,"tickSize":{"condition":{"test":"datum.value!=2","value":-8},"value":-4}}}}}
]}
],
"spacing":0,
"bounds":"flush"
}
